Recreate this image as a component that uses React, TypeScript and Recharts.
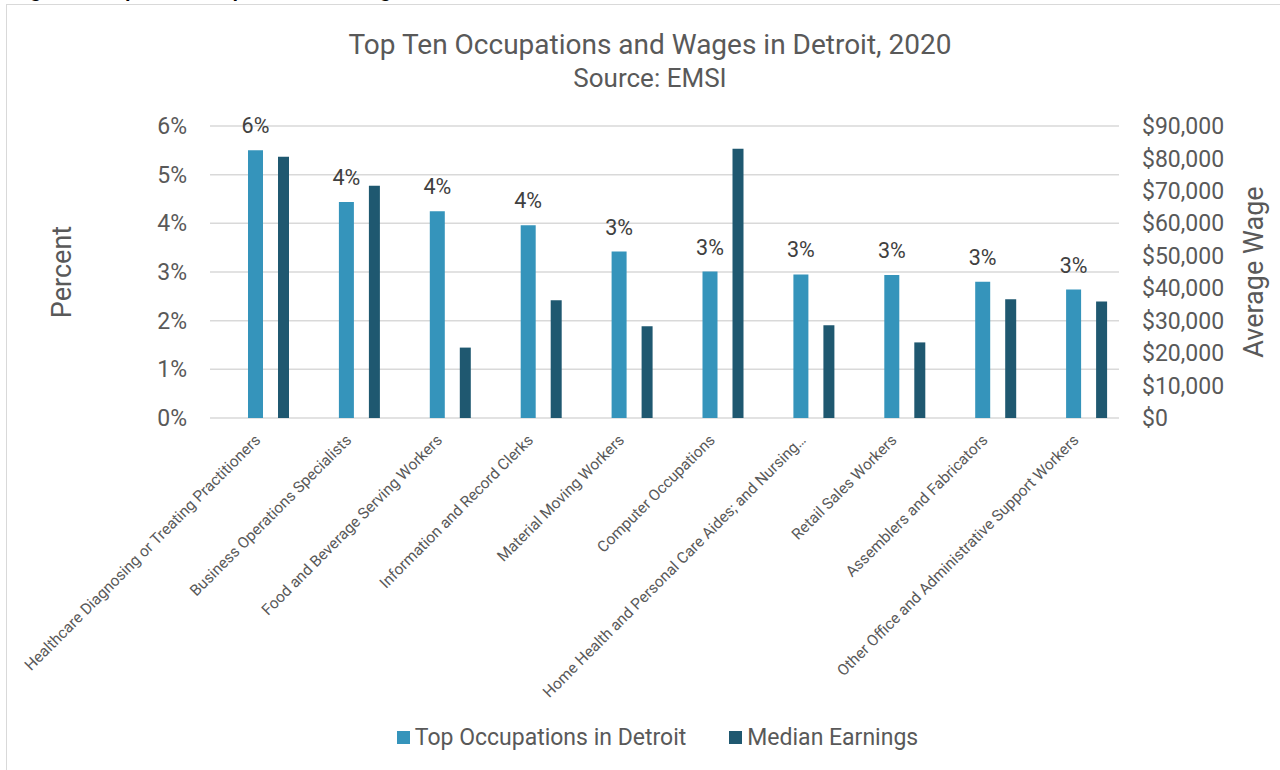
import React from "react";
import {
  ComposedChart,
  Bar,
  XAxis,
  YAxis,
  CartesianGrid,
  Legend,
  LabelList,
} from "recharts";

const categories = [
  "Healthcare Diagnosing or Treating Practitioners",
  "Business Operations Specialists",
  "Food and Beverage Serving Workers",
  "Information and Record Clerks",
  "Material Moving Workers",
  "Computer Occupations",
  "Home Health and Personal Care Aides; and Nursing…",
  "Retail Sales Workers",
  "Assemblers and Fabricators",
  "Other Office and Administrative Support Workers",
];

// percent of employment
const occupationShare = [5.5, 4.44, 4.25, 3.96, 3.42, 3.01, 2.95, 2.94, 2.8, 2.64];
// median earnings in dollars
const medianEarnings = [80500, 71600, 21700, 36300, 28300, 83000, 28600, 23300, 36600, 35900];

const percentTicks = [0, 1, 2, 3, 4, 5, 6];
const wageTicks = [0, 10000, 20000, 30000, 40000, 50000, 60000, 70000, 80000, 90000];

const seriesNames = ["Top Occupations in Detroit", "Median Earnings"];
const LIGHT = "#3594BB";
const DARK = "#1F5870";
const TEXT = "#595959";
const FONT = "Roboto, 'DejaVu Sans', sans-serif";

const data = categories.map((name, i) => ({
  name,
  share: occupationShare[i],
  earnings: medianEarnings[i],
}));

const CategoryTick = (props: any) => {
  const { x, y, payload } = props;
  return (
    <g transform={`translate(${x + 6},${y + 23})`}>
      <text
        transform="rotate(-45)"
        textAnchor="end"
        x={0}
        y={0}
        fill={TEXT}
        fontSize={15.5}
        fontFamily={FONT}
      >
        {payload.value}
      </text>
    </g>
  );
};

const LegendContent = () => (
  <div
    style={{
      display: "flex",
      justifyContent: "center",
      alignItems: "center",
      height: 30,
      paddingLeft: 35,
      fontFamily: FONT,
      fontSize: 23,
      color: TEXT,
    }}
  >
    {seriesNames.map((n, i) => (
      <div
        key={n}
        style={{ display: "flex", alignItems: "center", marginLeft: i === 0 ? 0 : 43 }}
      >
        <span
          style={{
            display: "inline-block",
            width: 13,
            height: 13,
            background: i === 0 ? LIGHT : DARK,
            marginRight: 5,
          }}
        />
        <span>{n}</span>
      </div>
    ))}
  </div>
);

export default function App() {
  return (
    <div
      style={{
        position: "absolute",
        left: 0,
        top: 0,
        width: 1280,
        height: 770,
        overflow: "hidden",
        background: "#fff",
        fontFamily: FONT,
      }}
    >
      <div
        style={{
          position: "absolute",
          left: 12,
          top: -20,
          fontFamily: "'Liberation Sans', Arial, sans-serif",
          fontWeight: 700,
          fontSize: 20,
          lineHeight: "20px",
          color: "#000",
          whiteSpace: "nowrap",
        }}
      >
        Figure 5: Top Ten Occupations and Wages in Detroit
      </div>
      <div
        style={{
          position: "absolute",
          left: 6,
          top: 4,
          width: 1300,
          height: 800,
          borderLeft: "1.5px solid #D9D9D9",
          borderTop: "1.5px solid #D9D9D9",
          background: "transparent",
        }}
      />
      <div
        style={{
          position: "absolute",
          left: 0,
          width: 1300,
          top: 31,
          textAlign: "center",
          color: TEXT,
          lineHeight: 1,
        }}
      >
        <div style={{ position: "absolute", left: 0, width: 1300, top: 0, fontSize: 28 }}>
          Top Ten Occupations and Wages in Detroit, 2020
        </div>
        <div style={{ position: "absolute", left: 0, width: 1300, top: 34, fontSize: 26 }}>
          Source: EMSI
        </div>
      </div>
      <div style={{ position: "absolute", left: 0, top: 0 }}>
        <ComposedChart
          width={1280}
          height={770}
          data={data}
          margin={{ top: 126, right: 0, bottom: 18, left: 0 }}
          barGap={15}
        >
          <CartesianGrid
            yAxisId="left"
            vertical={false}
            stroke="#D9D9D9"
            strokeWidth={1.5}
          />
          <XAxis
            dataKey="name"
            type="category"
            interval={0}
            height={304}
            axisLine={false}
            tickLine={false}
            tickSize={0}
            tickMargin={0}
            tick={<CategoryTick />}
          />
          <YAxis
            yAxisId="left"
            orientation="left"
            width={210}
            domain={[0, 6]}
            ticks={percentTicks}
            tickFormatter={(v: number) => `${v}%`}
            axisLine={false}
            tickLine={false}
            tickSize={0}
            tickMargin={23}
            tick={{ fill: TEXT, fontSize: 23, fontFamily: FONT }}
            label={{
              value: "Percent",
              angle: -90,
              position: "insideLeft",
              offset: 61,
              style: { textAnchor: "middle", fill: TEXT, fontSize: 27, fontFamily: FONT },
            }}
          />
          <YAxis
            yAxisId="right"
            orientation="right"
            width={161}
            domain={[0, 90000]}
            ticks={wageTicks}
            tickFormatter={(v: number) => `$${v.toLocaleString("en-US")}`}
            axisLine={false}
            tickLine={false}
            tickSize={0}
            tickMargin={23}
            tick={{ fill: TEXT, fontSize: 23, fontFamily: FONT, textAnchor: "start" }}
            label={{
              value: "Average Wage",
              angle: -90,
              position: "insideRight",
              offset: 27,
              style: { textAnchor: "middle", fill: TEXT, fontSize: 27, fontFamily: FONT },
            }}
          />
          <Legend verticalAlign="bottom" content={<LegendContent />} />
          <Bar
            yAxisId="left"
            dataKey="spacer"
            barSize={12}
            legendType="none"
            fill="transparent"
            isAnimationActive={false}
          />
          <Bar
            yAxisId="left"
            dataKey="share"
            name={seriesNames[0]}
            fill={LIGHT}
            barSize={15}
            isAnimationActive={false}
          >
            <LabelList
              dataKey="share"
              position="top"
              offset={17}
              formatter={(v: any) => `${Math.round(Number(v))}%`}
              fill="#404040"
              style={{ fontSize: 21.5, fontFamily: FONT, fill: "#404040" }}
            />
          </Bar>
          <Bar
            yAxisId="right"
            dataKey="earnings"
            name={seriesNames[1]}
            fill={DARK}
            barSize={11}
            isAnimationActive={false}
          />
        </ComposedChart>
      </div>
    </div>
  );
}
